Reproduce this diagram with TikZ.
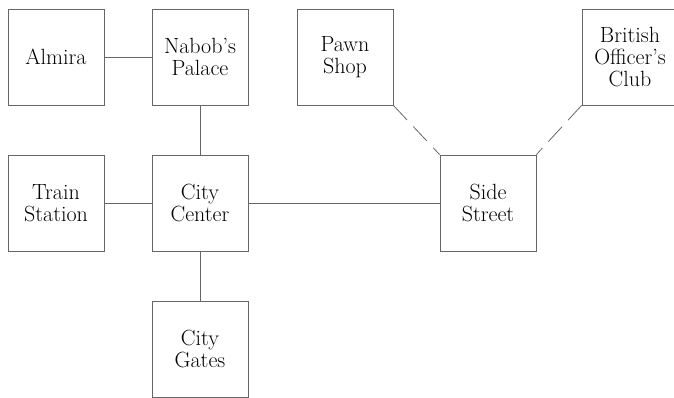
\documentclass[tikz,border=0pt]{standalone}
\usepackage{fontspec}
\setmainfont{Latin Modern Roman}

\tikzset{room/.style={rectangle, draw=black!60, line width=0.8pt, fill=white, minimum size=96pt, inner sep=0pt, align=center, font=\fontsize{22}{22}\selectfont},
	passage/.style={draw=black!60, line width=0.8pt}}

\begin{document}
\begin{tikzpicture}[x=1pt, y=-1pt]
		\useasboundingbox (0,0) rectangle (674,398);
		
		% Draw the rooms
		\node[room] (almira) at (56,57) {Almira};
		\node[room] (palace) at (200,57) {Nabob's\\Palace};
		\node[room] (pawn) at (345,57) {Pawn\\Shop};
		\node[room] (club) at (630,57) {British\\Officer's\\Club};
		\node[room] (train) at (56,203) {Train\\Station};
		\node[room] (center) at (200,203) {City\\Center};
		\node[room] (side) at (488,203) {Side\\Street};
		\node[room] (gates) at (200,349) {City\\Gates};
		
		% Draw the passages
		\draw[passage] (almira) -- (palace);
		\draw[passage] (palace) -- (center);
		\draw[passage] (train) -- (center);
		\draw[passage] (center) -- (side);
		\draw[passage] (center) -- (gates);
		
		\draw[passage, dash pattern=on 20pt off 9pt] (pawn.south east) -- (side.north west);
		\draw[passage, dash pattern=on 20pt off 9pt] (club.south west) -- (side.north east);
	\end{tikzpicture}
\end{document}
